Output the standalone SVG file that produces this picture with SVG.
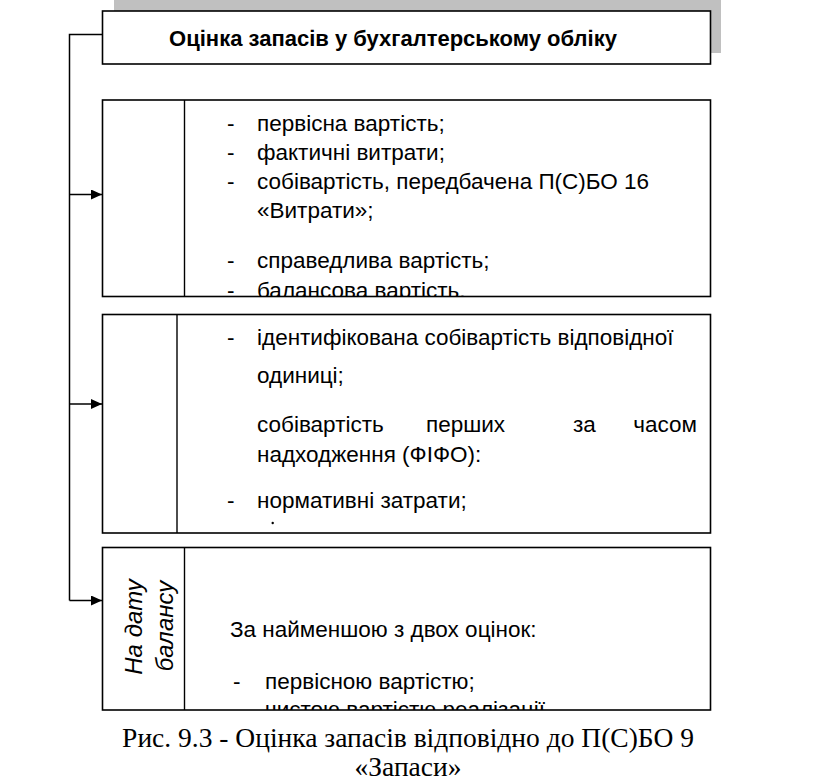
<svg xmlns="http://www.w3.org/2000/svg" width="816" height="781" viewBox="0 0 816 781">
<style>
.box{fill:#fff;stroke:#000;stroke-width:1.6}
.div{stroke:#000;stroke-width:1.4}
.t{font-family:"Liberation Sans","Open Sans",sans-serif;font-size:22.5px;fill:#000}
.ti{font-family:"Liberation Sans","Open Sans",sans-serif;font-size:22px;font-weight:bold;fill:#000}
.rot{font-family:"Liberation Sans","Open Sans",sans-serif;font-size:24px;font-style:italic;fill:#000}
.cap{font-family:"Liberation Serif","Times New Roman",serif;font-size:27.5px;fill:#000}
.con{fill:none;stroke:#000;stroke-width:1.5}
</style>
<defs>
<marker id="arr" markerWidth="11" markerHeight="10" refX="11" refY="5" orient="auto" markerUnits="userSpaceOnUse">
<path d="M0,0 L11,5 L0,10 Z" fill="#000"/>
</marker>
<clipPath id="c1"><rect x="100" y="98" width="614" height="198"/></clipPath>
<clipPath id="c2"><rect x="100" y="312" width="614" height="221"/></clipPath>
<clipPath id="c3"><rect x="100" y="545" width="614" height="165"/></clipPath>
</defs>

<rect x="114" y="0" width="607" height="53" fill="#c0c0c0"/>

<g id="title">
<rect class="box" x="102.5" y="11" width="608" height="53"/>
<text class="ti" x="393" y="46" text-anchor="middle">Оцінка запасів у бухгалтерському обліку</text>
</g>

<g id="connectors">
<path class="con" d="M102.5,34.5 H69.5 V600.5"/>
<path class="con" d="M69.5,194.5 H102" marker-end="url(#arr)"/>
<path class="con" d="M69.5,404 H102" marker-end="url(#arr)"/>
<path class="con" d="M69.5,600.5 H102" marker-end="url(#arr)"/>
</g>

<g id="box1">
<rect class="box" x="102.5" y="100" width="608" height="196.5"/>
<line class="div" x1="184.5" y1="100" x2="184.5" y2="296.5"/>
<g clip-path="url(#c1)">
<text class="t" x="227" y="131">-</text><text class="t" x="257" y="131">первісна вартість;</text>
<text class="t" x="227" y="160">-</text><text class="t" x="257" y="160">фактичні витрати;</text>
<text class="t" x="227" y="189">-</text><text class="t" x="257" y="189">собівартість, передбачена П(С)БО 16</text>
<text class="t" x="257" y="218">«Витрати»;</text>
<text class="t" x="227" y="268">-</text><text class="t" x="257" y="268">справедлива вартість;</text>
<text class="t" x="227" y="298">-</text><text class="t" x="257" y="298">балансова вартість.</text>
</g>
</g>

<g id="box2">
<rect class="box" x="102.5" y="314.5" width="608" height="218.5"/>
<line class="div" x1="177" y1="314.5" x2="177" y2="533"/>
<g clip-path="url(#c2)">
<text class="t" x="227" y="345">-</text><text class="t" x="257" y="345">ідентифікована собівартість відповідної</text>
<text class="t" x="257" y="383">одиниці;</text>
<text class="t" x="257" y="432">собівартість</text>
<text class="t" x="426" y="432">перших</text>
<text class="t" x="573" y="432">за</text>
<text class="t" x="697" y="432" text-anchor="end">часом</text>
<text class="t" x="257" y="462">надходження (ФІФО):</text>
<text class="t" x="227" y="508">-</text><text class="t" x="257" y="508">нормативні затрати;</text>
<circle cx="272.7" cy="523" r="1.2" fill="#000"/>
</g>
</g>

<g id="box3">
<rect class="box" x="102.5" y="547.5" width="608" height="162.5"/>
<line class="div" x1="184.5" y1="547.5" x2="184.5" y2="710"/>
<text class="rot" transform="translate(142,627) rotate(-90)" text-anchor="middle">На дату</text>
<text class="rot" transform="translate(173,626) rotate(-90)" text-anchor="middle">балансу</text>
<g clip-path="url(#c3)">
<text class="t" x="230" y="637">За найменшою з двох оцінок:</text>
<text class="t" x="233" y="689">-</text><text class="t" x="265" y="689">первісною вартістю;</text>
<text class="t" x="233" y="717">-</text><text class="t" x="265" y="717">чистою вартістю реалізації</text>
</g>
</g>

<g id="caption">
<text class="cap" x="408" y="747" text-anchor="middle">Рис. 9.3 - Оцінка запасів відповідно до П(С)БО 9</text>
<text class="cap" x="408" y="776" text-anchor="middle">«Запаси»</text>
</g>
</svg>
